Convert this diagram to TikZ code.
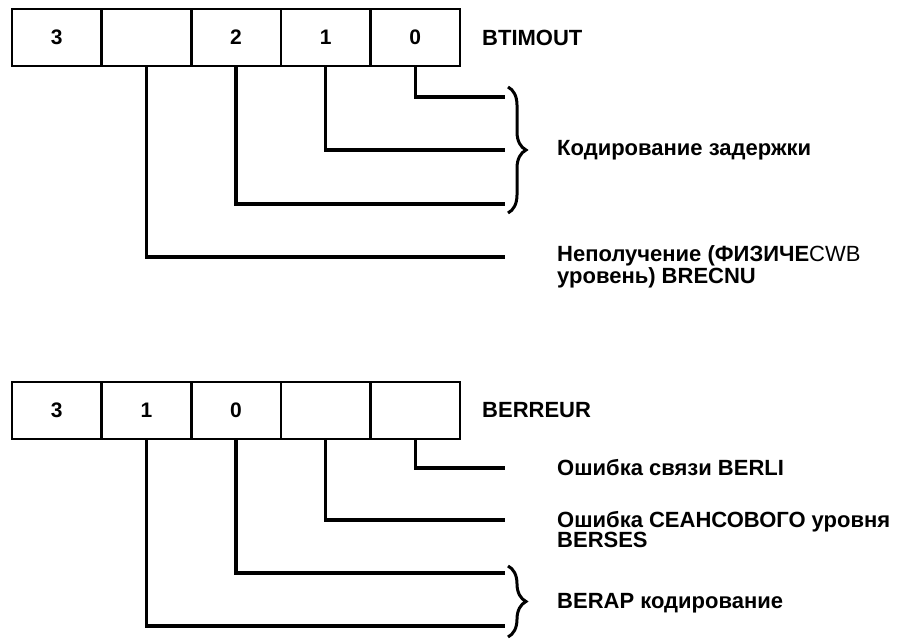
\documentclass[tikz,border=0pt]{standalone}
\usepackage{fontspec}
\setmainfont{Liberation Sans}
\usetikzlibrary{decorations.pathreplacing}
\begin{document}
\begin{tikzpicture}[x=1pt,y=-1pt,
  cell/.style={draw, line width=2.6pt, minimum width=89.6pt, minimum height=57pt, inner sep=0pt, outer sep=0pt, anchor=north west, font=\fontsize{21}{21}\selectfont\bfseries},
  lbl/.style={anchor=west, inner sep=0pt, align=left, font=\fontsize{22}{20}\selectfont\bfseries},
  wire/.style={line width=3.2pt},
  brc/.style={line width=3pt, decorate, decoration={brace, amplitude=18pt}}]
\useasboundingbox (0,0) rectangle (903,639);
% top register
\node[cell] (t1) at (12,9) {3};
\node[cell] (t2) at (101.6,9) {};
\node[cell] (t3) at (191.2,9) {2};
\node[cell] (t4) at (280.8,9) {1};
\node[cell] (t5) at (370.4,9) {0};
\node[lbl] (tname) at (482,38) {BTIMOUT};
\coordinate (te5) at (505,97);
\coordinate (te4) at (505,150);
\coordinate (te3) at (505,204);
\coordinate (te2) at (505,257);
\draw[wire] (t5.south) |- (te5);
\draw[wire] (t4.south) |- (te4);
\draw[wire] (t3.south) |- (te3);
\draw[wire] (t2.south) |- (te2);
\coordinate (tbA) at (508,87);
\coordinate (tbB) at (508,213);
\draw[brc] (tbA) -- (tbB);
\node[lbl] (tl1) at (557,150) {Кодирование задержки};
\node[lbl] (tl2) at (557,267) {Неполучение (ФИЗИЧЕ\textmd{CWB}\\уровень) BRECNU};
% bottom register
\node[cell] (b1) at (12,382) {3};
\node[cell] (b2) at (101.6,382) {1};
\node[cell] (b3) at (191.2,382) {0};
\node[cell] (b4) at (280.8,382) {};
\node[cell] (b5) at (370.4,382) {};
\node[lbl] (bname) at (482,410) {BERREUR};
\coordinate (be5) at (505,468);
\coordinate (be4) at (505,520);
\coordinate (be3) at (505,573);
\coordinate (be2) at (505,626);
\draw[wire] (b5.south) |- (be5);
\draw[wire] (b4.south) |- (be4);
\draw[wire] (b3.south) |- (be3);
\draw[wire] (b2.south) |- (be2);
\coordinate (bbA) at (508,566);
\coordinate (bbB) at (508,637);
\draw[brc] (bbA) -- (bbB);
\node[lbl] (bl1) at (557,468) {Ошибка связи BERLI};
\node[lbl] (bl2) at (557,530) {Ошибка СЕАНСОВОГО уровня\\BERSES};
\node[lbl] (bl3) at (557,603) {BERAP кодирование};
\end{tikzpicture}
\end{document}
